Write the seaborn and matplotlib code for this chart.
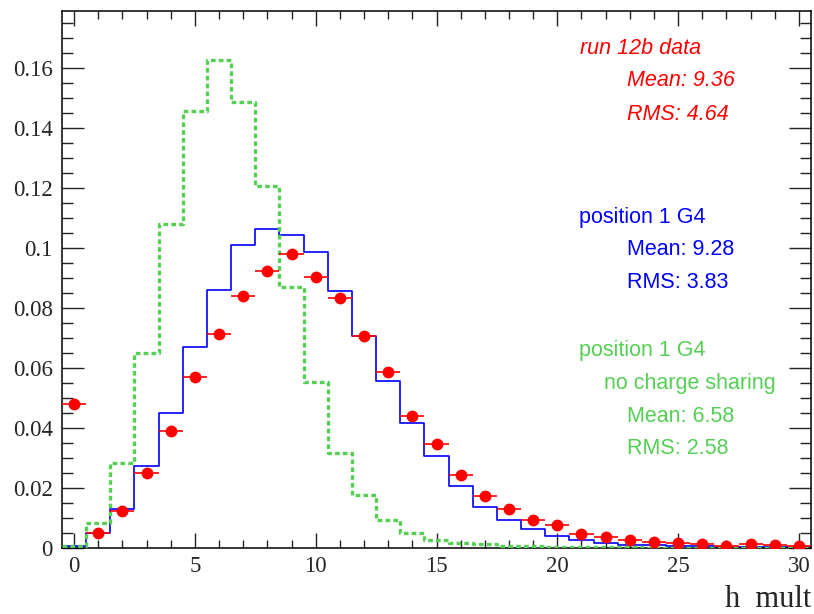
import numpy as np
import pandas as pd
import matplotlib
matplotlib.use("Agg")
import matplotlib.pyplot as plt
from matplotlib.ticker import MultipleLocator, FixedLocator
import seaborn as sns

# Hit multiplicity per event, normalised distributions (bins centred on integers)
mult_bins = list(range(0, 31))

data_run12b = [0.0478, 0.0049, 0.0122, 0.0247, 0.0388, 0.0568, 0.0712, 0.0839,
               0.0923, 0.0980, 0.0904, 0.0831, 0.0707, 0.0585, 0.0439, 0.0344,
               0.0242, 0.0172, 0.0127, 0.0092, 0.0074, 0.0045, 0.0036, 0.0024,
               0.0017, 0.0015, 0.0012, 0.0006, 0.0011, 0.0008, 0.0006]

g4_pos1 = [0.0004, 0.0048, 0.0129, 0.0271, 0.0449, 0.0669, 0.0858, 0.1008,
           0.1063, 0.1044, 0.0986, 0.0855, 0.0705, 0.0556, 0.0414, 0.0305,
           0.0205, 0.0136, 0.0092, 0.0061, 0.0039, 0.0025, 0.0016, 0.0010,
           0.0007, 0.0005, 0.0004, 0.0003, 0.0002, 0.0002, 0.0001]

g4_pos1_nocs = [0.0006, 0.0082, 0.0283, 0.0649, 0.1081, 0.1458, 0.1627, 0.1488,
                0.1206, 0.0870, 0.0553, 0.0314, 0.0175, 0.0092, 0.0049, 0.0024,
                0.0016, 0.0011, 0.0006, 0.0004, 0.0003, 0.0002, 0.0001, 0.0001,
                0.0, 0.0, 0.0, 0.0, 0.0, 0.0, 0.0]

x_ticks = [0, 5, 10, 15, 20, 25, 30]
y_ticks = [0, 0.02, 0.04, 0.06, 0.08, 0.1, 0.12, 0.14, 0.16]
y_tick_labels = ["0", "0.02", "0.04", "0.06", "0.08", "0.1", "0.12", "0.14", "0.16"]

RED = "#ff0000"
BLUE = "#0000ff"
GREEN = "#55d055"

sns.set_theme(style="white")
plt.rcParams["font.family"] = ["Liberation Serif", "DejaVu Serif"]

df = pd.DataFrame({"mult": mult_bins, "data": data_run12b,
                   "g4": g4_pos1, "g4_nocs": g4_pos1_nocs})

W, H = 814, 614
fig = plt.figure(figsize=(W / 100, H / 100), dpi=100)
ax = fig.add_axes([62 / W, 1 - 547.5 / H, (811 - 62) / W, (547.5 - 11) / H])

sns.histplot(data=df, x="mult", weights="g4", discrete=True, element="step",
             fill=False, color=BLUE, linewidth=1.2, ax=ax, zorder=2)
sns.histplot(data=df, x="mult", weights="g4_nocs", discrete=True, element="step",
             fill=False, color=GREEN, linewidth=2.4, linestyle=(0, (1.4, 0.95)),
             ax=ax, zorder=3)
ax.errorbar(df["mult"], df["data"], xerr=0.5, fmt="o", color=RED, ms=7.5,
            elinewidth=1.2, capsize=0, zorder=4)

ax.set_xlim(-0.5, 30.5)
ax.set_ylim(0, 0.179)
ax.set_xlabel("")
ax.set_ylabel("")

ax.xaxis.set_major_locator(FixedLocator(x_ticks))
ax.xaxis.set_minor_locator(MultipleLocator(1))
ax.yaxis.set_major_locator(FixedLocator(y_ticks))
ax.yaxis.set_minor_locator(MultipleLocator(0.005))
ax.set_xticklabels([str(t) for t in x_ticks])
ax.set_yticklabels(y_tick_labels)

ax.tick_params(axis="x", which="major", direction="in", length=10.8, width=1.0,
               top=True, bottom=True, labelsize=16.5, pad=6, color="#222222")
ax.tick_params(axis="x", which="minor", direction="in", length=5.8, width=1.0,
               top=True, bottom=True, color="#222222")
ax.tick_params(axis="y", which="major", direction="in", length=15.8, width=1.0,
               left=True, right=True, labelsize=16.5, pad=6.5, color="#222222")
ax.tick_params(axis="y", which="minor", direction="in", length=7.9, width=1.0,
               left=True, right=True, color="#222222")
for s in ax.spines.values():
    s.set_color("black")
    s.set_linewidth(1.1)

fig.text(811 / W, 1 - 607 / H, "h  mult", ha="right", va="baseline",
         fontsize=22, family=["Liberation Serif", "DejaVu Serif"])


def label(px, py, txt, color, italic=False):
    fig.text(px / W, 1 - py / H, txt, ha="left", va="baseline", color=color,
             fontsize=15.5, style="italic" if italic else "normal",
             family=["Liberation Sans", "DejaVu Sans"])


label(580, 53.5, "run 12b data", RED, italic=True)
label(627, 86.5, "Mean: 9.36", RED, italic=True)
label(627, 120, "RMS: 4.64", RED, italic=True)

label(579, 222.5, "position 1 G4", BLUE)
label(627, 255, "Mean: 9.28", BLUE)
label(627, 287.5, "RMS: 3.83", BLUE)

label(579, 356, "position 1 G4", GREEN)
label(604, 389, "no charge sharing", GREEN)
label(627, 422, "Mean: 6.58", GREEN)
label(627, 454.5, "RMS: 2.58", GREEN)

fig.savefig("out.png", dpi=100, facecolor="white")
